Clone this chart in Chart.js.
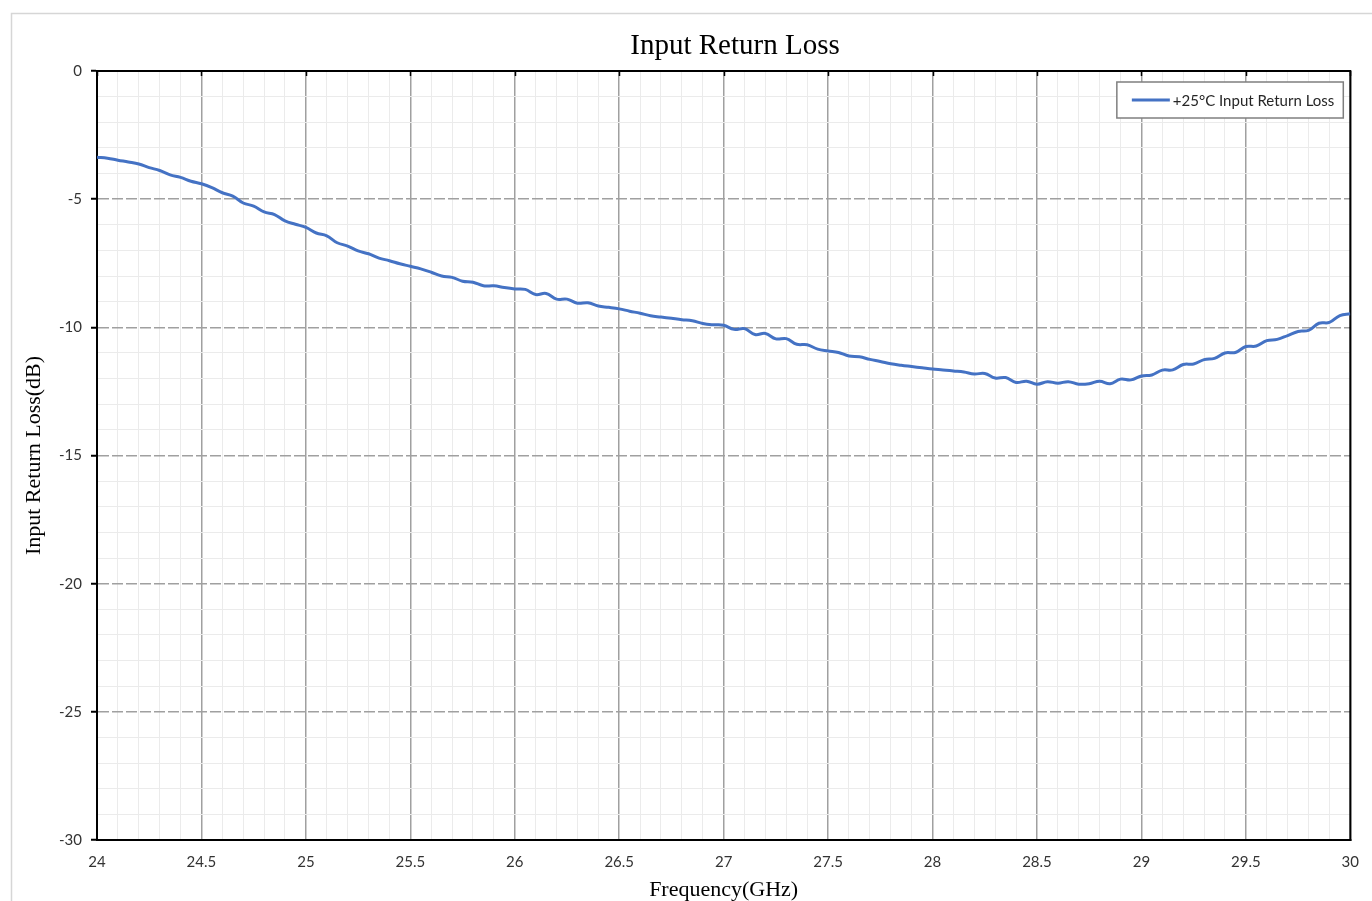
<!DOCTYPE html>
<html>
<head>
<meta charset="utf-8">
<title>Input Return Loss</title>
<script src="https://cdn.jsdelivr.net/npm/chart.js@4.4.1/dist/chart.umd.min.js"></script>
<style>
  html, body { margin: 0; padding: 0; background: #fff; overflow: hidden; }
  #wrap { position: relative; width: 1372px; height: 901px; }
</style>
</head>
<body>
<div id="wrap"><canvas id="chart"></canvas></div>
<script>
const FREQ_GHZ = [
  24.00, 24.05, 24.10, 24.15, 24.20, 24.25, 24.30, 24.35, 24.40, 24.45,
  24.50, 24.55, 24.60, 24.65, 24.70, 24.75, 24.80, 24.85, 24.90, 24.95,
  25.00, 25.05, 25.10, 25.15, 25.20, 25.25, 25.30, 25.35, 25.40, 25.45,
  25.50, 25.55, 25.60, 25.65, 25.70, 25.75, 25.80, 25.85, 25.90, 25.95,
  26.00, 26.05, 26.10, 26.15, 26.20, 26.25, 26.30, 26.35, 26.40, 26.45,
  26.50, 26.55, 26.60, 26.65, 26.70, 26.75, 26.80, 26.85, 26.90, 26.95,
  27.00, 27.05, 27.10, 27.15, 27.20, 27.25, 27.30, 27.35, 27.40, 27.45,
  27.50, 27.55, 27.60, 27.65, 27.70, 27.75, 27.80, 27.85, 27.90, 27.95,
  28.00, 28.05, 28.10, 28.15, 28.20, 28.25, 28.30, 28.35, 28.40, 28.45,
  28.50, 28.55, 28.60, 28.65, 28.70, 28.75, 28.80, 28.85, 28.90, 28.95,
  29.00, 29.05, 29.10, 29.15, 29.20, 29.25, 29.30, 29.35, 29.40, 29.45,
  29.50, 29.55, 29.60, 29.65, 29.70, 29.75, 29.80, 29.85, 29.90, 29.95,
  30.00
];

const RETURN_LOSS_DB = [
  -3.36, -3.40, -3.48, -3.55, -3.63, -3.77, -3.88, -4.05, -4.15, -4.30,
  -4.40, -4.55, -4.75, -4.88, -5.15, -5.27, -5.50, -5.60, -5.85, -5.98,
  -6.10, -6.32, -6.43, -6.70, -6.83, -7.02, -7.13, -7.30, -7.40, -7.52,
  -7.62, -7.72, -7.85, -8.00, -8.05, -8.20, -8.24, -8.38, -8.38, -8.45,
  -8.50, -8.52, -8.72, -8.68, -8.90, -8.90, -9.06, -9.04, -9.17, -9.22,
  -9.28, -9.37, -9.45, -9.55, -9.60, -9.65, -9.70, -9.74, -9.85, -9.90,
  -9.92, -10.08, -10.05, -10.28, -10.24, -10.45, -10.44, -10.66, -10.68, -10.85,
  -10.92, -10.98, -11.12, -11.15, -11.25, -11.33, -11.42, -11.48, -11.53, -11.58,
  -11.63, -11.66, -11.70, -11.74, -11.82, -11.80, -11.98, -11.96, -12.15, -12.10,
  -12.22, -12.12, -12.18, -12.12, -12.22, -12.20, -12.10, -12.20, -12.02, -12.05,
  -11.90, -11.86, -11.67, -11.66, -11.45, -11.43, -11.26, -11.21, -11.00, -10.98,
  -10.75, -10.73, -10.52, -10.47, -10.32, -10.16, -10.12, -9.84, -9.81, -9.54,
  -9.47
];

const SERIES_LABEL = '+25°C Input Return Loss';
const CHART_TITLE = 'Input Return Loss';
const X_TITLE = 'Frequency(GHz)';
const Y_TITLE = 'Input Return Loss(dB)';

const X_MIN = 24, X_MAX = 30, X_MINOR = 0.1, X_MAJOR = 0.5;
const Y_MIN = -30, Y_MAX = 0, Y_MINOR = 1, Y_MAJOR = 5;

const LINE_BLUE = '#4472C4';
const SANS = 'Lato, "Open Sans", sans-serif';
const SERIF = '"Liberation Serif", "Times New Roman", serif';

const onStep = (v, step) => Math.abs(v / step - Math.round(v / step)) < 1e-6;

// explicit minor/major tick list so the grid spacing is exact
function gridTicks(min, max, step) {
  const n = Math.round((max - min) / step);
  const out = [];
  for (let i = 0; i <= n; i++) out.push({ value: Math.round((min + i * step) * 1000) / 1000 });
  return out;
}

// light frame around the whole chart object
const outerFrame = {
  id: 'outerFrame',
  beforeDraw(chart) {
    const { ctx } = chart;
    ctx.save();
    ctx.strokeStyle = '#d6d6d6';
    ctx.lineWidth = 1.5;
    ctx.strokeRect(11.5, 13.5, chart.width + 50, chart.height + 50);
    ctx.restore();
  }
};

// black box round the plot area + small marks on the top edge
const plotBox = {
  id: 'plotBox',
  beforeDatasetsDraw(chart) {
    const { ctx, chartArea: a, scales } = chart;
    ctx.save();
    ctx.strokeStyle = '#000';
    ctx.lineWidth = 2;
    ctx.strokeRect(a.left, a.top, a.right - a.left, a.bottom - a.top);
    ctx.lineWidth = 1.5;
    scales.x.ticks.forEach(t => {
      if (!onStep(t.value, X_MAJOR)) return;
      const px = Math.round(scales.x.getPixelForValue(t.value)) + 0.5;
      ctx.beginPath();
      ctx.moveTo(px, a.top);
      ctx.lineTo(px, a.top + 5);
      ctx.stroke();
    });
    ctx.restore();
  }
};

// chart title, centred where the original puts it
const titleText = {
  id: 'titleText',
  afterDraw(chart) {
    const { ctx } = chart;
    ctx.save();
    ctx.font = '29px ' + SERIF;
    ctx.fillStyle = '#000';
    ctx.textAlign = 'center';
    ctx.textBaseline = 'middle';
    ctx.fillText(CHART_TITLE, 735, 46);
    ctx.restore();
  }
};

// boxed legend inside the plot, top right
const boxLegend = {
  id: 'boxLegend',
  afterDatasetsDraw(chart) {
    const { ctx, chartArea: a } = chart;
    const ds = chart.data.datasets[0];
    ctx.save();
    ctx.font = '15px ' + SANS;
    const tw = ctx.measureText(ds.label).width;
    const w = 15 + 38 + 3 + tw + 9;
    const h = 36;
    const x = a.right - 7 - w;
    const y = a.top + 11;
    ctx.fillStyle = '#fff';
    ctx.fillRect(x, y, w, h);
    ctx.strokeStyle = '#7f7f7f';
    ctx.lineWidth = 1.5;
    ctx.strokeRect(x, y, w, h);
    ctx.strokeStyle = ds.borderColor;
    ctx.lineWidth = 3;
    ctx.beginPath();
    ctx.moveTo(x + 15, y + h / 2);
    ctx.lineTo(x + 53, y + h / 2);
    ctx.stroke();
    ctx.fillStyle = '#262626';
    ctx.textBaseline = 'middle';
    ctx.fillText(ds.label, x + 56, y + h / 2 + 1);
    ctx.restore();
  }
};

new Chart(document.getElementById('chart'), {
  type: 'line',
  data: {
    datasets: [{
      label: SERIES_LABEL,
      data: FREQ_GHZ.map((f, i) => ({ x: f, y: RETURN_LOSS_DB[i] })),
      borderColor: LINE_BLUE,
      backgroundColor: LINE_BLUE,
      borderWidth: 3,
      pointRadius: 0,
      tension: 0.4,
      fill: false
    }]
  },
  options: {
    responsive: true,
    maintainAspectRatio: false,
    animation: false,
    layout: { padding: { top: 71, right: 21, bottom: 0, left: 0 } },
    plugins: {
      legend: { display: false },
      title: { display: false },
      tooltip: { enabled: false }
    },
    scales: {
      x: {
        type: 'linear',
        min: X_MIN,
        max: X_MAX,
        afterBuildTicks: s => { s.ticks = gridTicks(X_MIN, X_MAX, X_MINOR); },
        afterFit: s => { s.height = 61; },
        ticks: {
          autoSkip: false,
          maxRotation: 0,
          padding: 13,
          color: '#333',
          font: { family: SANS, size: 15 },
          callback: v => onStep(v, X_MAJOR) ? String(Math.round(v * 10) / 10) : ''
        },
        grid: {
          drawTicks: false,
          color: c => onStep(c.tick.value, X_MAJOR) ? '#a0a0a0' : '#ebebeb',
          lineWidth: c => onStep(c.tick.value, X_MAJOR) ? 1.5 : 1
        },
        border: { color: '#000', width: 2 },
        title: {
          display: true,
          text: X_TITLE,
          color: '#000',
          font: { family: SERIF, size: 22, lineHeight: 1 },
          padding: { top: 0, bottom: 0 }
        }
      },
      y: {
        type: 'linear',
        min: Y_MIN,
        max: Y_MAX,
        afterBuildTicks: s => { s.ticks = gridTicks(Y_MIN, Y_MAX, Y_MINOR); },
        afterFit: s => { s.width = 97; },
        ticks: {
          autoSkip: false,
          padding: 9,
          color: '#333',
          font: { family: SANS, size: 15 },
          callback: v => onStep(v, Y_MAJOR) ? String(v) : ''
        },
        grid: {
          drawTicks: true,
          tickLength: 6,
          tickWidth: 2,
          tickColor: c => onStep(c.tick.value, Y_MAJOR) ? '#000' : 'rgba(0,0,0,0)',
          tickBorderDash: [],
          color: c => onStep(c.tick.value, Y_MAJOR) ? '#a0a0a0' : '#ebebeb',
          lineWidth: c => onStep(c.tick.value, Y_MAJOR) ? 1.5 : 1
        },
        border: {
          color: '#000',
          width: 2,
          dash: c => (c.tick && onStep(c.tick.value, Y_MAJOR) && c.tick.value !== Y_MIN && c.tick.value !== Y_MAX) ? [11, 3] : []
        },
        title: {
          display: true,
          text: Y_TITLE,
          color: '#000',
          font: { family: SERIF, size: 22, lineHeight: 1.2 },
          padding: { top: 21, bottom: 0 }
        }
      }
    }
  },
  plugins: [outerFrame, plotBox, boxLegend, titleText]
});
</script>
</body>
</html>
